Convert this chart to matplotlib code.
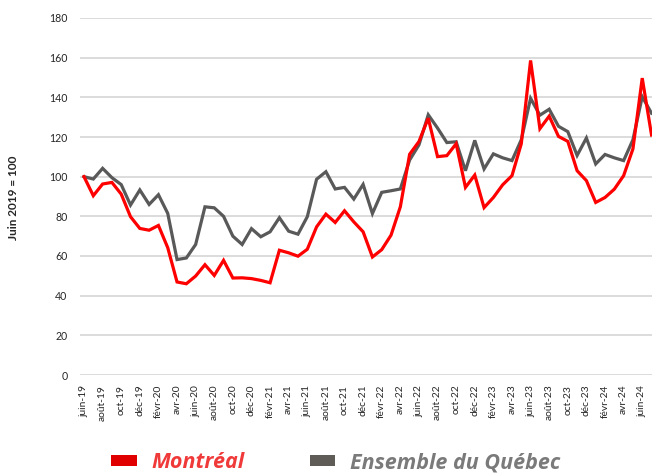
import numpy as np
import matplotlib
matplotlib.use("Agg")
import matplotlib.pyplot as plt
from matplotlib.patches import Patch

# ── Données (juin 2019 = 100) ────────────────────────────────────────────────
MOIS = ["janv", "févr", "mars", "avr", "mai", "juin",
        "juil", "août", "sept", "oct", "nov", "déc"]

montreal = [100, 90.4, 96.3, 97.1, 91.2, 79.8, 73.9, 73.0, 75.4, 64.2,
            46.9, 46.0, 49.9, 55.6, 50.2, 57.8, 48.9, 49.0, 48.6, 47.7,
            46.5, 62.9, 61.6, 59.9, 63.4, 74.7, 81.1, 76.9, 82.8, 77.2,
            72.2, 59.5, 63.2, 70.5, 84.8, 111.3, 117.7, 129.5, 110.1, 110.6,
            116.6, 94.6, 100.8, 84.4, 89.5, 95.9, 100.5, 116.6, 158.6, 124.2,
            130.5, 120.3, 117.8, 103.0, 98.0, 87.0, 89.5, 93.7, 100.5, 114.0,
            149.7, 121.0]

quebec = [100, 98.8, 104.2, 99.5, 96.0, 85.7, 93.3, 86.0, 90.9, 81.5,
          58.2, 59.0, 65.8, 84.8, 84.3, 80.0, 70.0, 65.8, 73.8, 69.7,
          72.2, 79.3, 72.5, 71.0, 79.8, 98.7, 102.5, 93.8, 94.6, 88.7,
          96.1, 81.4, 92.1, 92.9, 93.8, 108.4, 116.0, 131.2, 124.5, 117.2,
          117.6, 103.0, 118.3, 103.9, 111.5, 109.5, 108.1, 118.6, 139.5, 131.0,
          134.0, 125.4, 122.7, 110.7, 119.5, 106.4, 111.2, 109.5, 108.1, 118.6,
          140.3, 132.0]

SERIES = ["Montréal", "Ensemble du Québec"]
COULEURS = ["#ff0000", "#595959"]
# ──────────────────────────────────────────────────────────────────────────────

n = len(montreal)
# premier mois = juin 2019
etiquettes = [f"{MOIS[(5 + i) % 12]}-{19 + (5 + i) // 12}" for i in range(n)]

FONT = "Lato"
plt.rcParams["font.family"] = [FONT, "DejaVu Sans"]

fig = plt.figure(figsize=(6.52, 4.74), dpi=100)
ax = fig.add_axes([80/652, 1-375/474, 572/652, 357/474])

x = np.arange(n)
ax.plot(x, quebec, color=COULEURS[1], lw=2.3, solid_joinstyle="miter")
ax.plot(x, montreal, color=COULEURS[0], lw=2.3, solid_joinstyle="miter")

ax.set_ylim(0, 180)
ax.set_xlim(-0.43, 61.05)
ax.set_yticks(np.arange(0, 181, 20))
ax.yaxis.grid(True, color="#d9d9d9", lw=1.3)
ax.set_axisbelow(True)
for s in ax.spines.values():
    s.set_visible(False)

ticks = list(range(0, n, 2))
ax.set_xticks(ticks)
ax.set_xticklabels([etiquettes[i] for i in ticks], rotation=90, fontsize=7.4,
                   color="#262626")
ax.tick_params(axis="x", length=0, pad=7)
ax.tick_params(axis="y", length=0, pad=9, labelsize=7.6, labelcolor="#262626")

fig.text(14/652, 1-198/474, "Juin 2019 = 100", rotation=90, ha="center",
         va="center", fontsize=8.5, fontweight="bold", color="#262626")

handles = [Patch(facecolor="#e00000"), Patch(facecolor="#5f5b57")]
leg = fig.legend(handles, SERIES, loc="center", ncol=2,
                 bbox_to_anchor=(0.515, 0.024), frameon=False,
                 prop={"family": "Open Sans", "weight": "bold",
                       "style": "italic", "size": 15.5},
                 handlelength=1.2, handleheight=0.42, handletextpad=0.7,
                 columnspacing=3.0)
leg.get_texts()[0].set_color("#f03a3a")
leg.get_texts()[1].set_color("#7a7a7a")

fig.savefig("out.png", dpi=100)
